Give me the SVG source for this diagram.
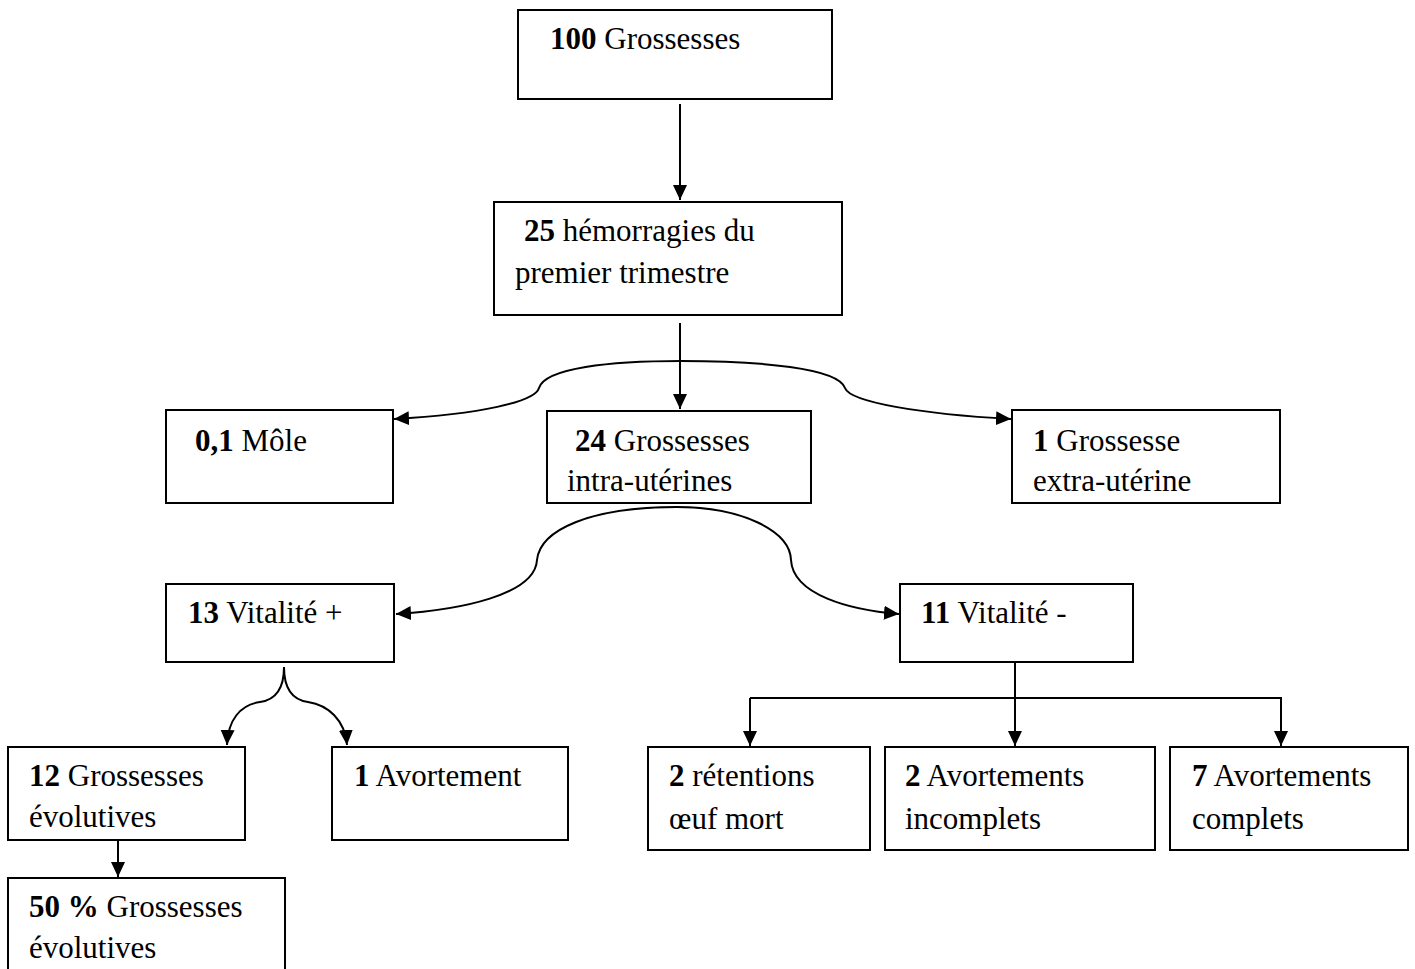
<svg xmlns="http://www.w3.org/2000/svg" width="1415" height="969" viewBox="0 0 1415 969">
<defs>
<style>
.box{fill:#fff;stroke:#000;stroke-width:2}
.t{font-family:"Liberation Serif","Times New Roman",serif;font-size:31px;fill:#000}
.b{font-weight:bold}
.c{fill:none;stroke:#000;stroke-width:2}
</style>
<marker id="ah" markerUnits="userSpaceOnUse" markerWidth="16" markerHeight="16" refX="15" refY="8" orient="auto">
<path d="M0,1 L15,8 L0,15 z" fill="#000"/>
</marker>
</defs>
<rect width="1415" height="969" fill="#fff"/>
<g id="connectors">
<path class="c" d="M680,104 L680,200" marker-end="url(#ah)"/>
<path class="c" d="M680,323 L680,409" marker-end="url(#ah)"/>
<path class="c" d="M681,361 C610,361 545,368 539,388 C535,402 480,414 394,419" marker-end="url(#ah)"/>
<path class="c" d="M681,361 C760,361 838,368 845,388 C850,402 920,414 1011,419" marker-end="url(#ah)"/>
<path class="c" d="M677,507 C590,507 540,530 537,560 C535,595 460,610 396,614" marker-end="url(#ah)"/>
<path class="c" d="M677,507 C740,507 790,530 791,560 C793,595 850,610 899,614" marker-end="url(#ah)"/>
<path class="c" d="M284,667 C284,690 275,700 260,702 C240,705 228,720 227,745" marker-end="url(#ah)"/>
<path class="c" d="M284,667 C284,690 293,700 308,702 C328,705 345,720 347,745" marker-end="url(#ah)"/>
<path class="c" d="M118,841 L118,877" marker-end="url(#ah)"/>
<path class="c" d="M1015,662 L1015,746" marker-end="url(#ah)"/>
<path class="c" d="M750,698 L1281,698 L1281,746" marker-end="url(#ah)"/>
<path class="c" d="M750,698 L750,746" marker-end="url(#ah)"/>
</g>
<g id="n100">
<rect class="box" x="518" y="10" width="314" height="89"/>
<text class="t" x="550" y="49"><tspan class="b">100</tspan> Grossesses</text>
</g>
<g id="n25">
<rect class="box" x="494" y="202" width="348" height="113"/>
<text class="t" x="524" y="241"><tspan class="b">25</tspan> hémorragies du</text>
<text class="t" x="515" y="283">premier trimestre</text>
</g>
<g id="nmole">
<rect class="box" x="166" y="410" width="227" height="93"/>
<text class="t" x="195" y="451"><tspan class="b">0,1</tspan> Môle</text>
</g>
<g id="n24">
<rect class="box" x="547" y="411" width="264" height="92"/>
<text class="t" x="575" y="451"><tspan class="b">24</tspan> Grossesses</text>
<text class="t" x="567" y="491">intra-utérines</text>
</g>
<g id="n1geu">
<rect class="box" x="1012" y="410" width="268" height="93"/>
<text class="t" x="1033" y="451"><tspan class="b">1</tspan> Grossesse</text>
<text class="t" x="1033" y="491">extra-utérine</text>
</g>
<g id="n13">
<rect class="box" x="166" y="584" width="228" height="78"/>
<text class="t" x="188" y="623"><tspan class="b">13</tspan> Vitalité +</text>
</g>
<g id="n11">
<rect class="box" x="900" y="584" width="233" height="78"/>
<text class="t" x="921" y="623"><tspan class="b">11</tspan> Vitalité -</text>
</g>
<g id="n12">
<rect class="box" x="8" y="747" width="237" height="93"/>
<text class="t" x="29" y="786"><tspan class="b">12</tspan> Grossesses</text>
<text class="t" x="29" y="827">évolutives</text>
</g>
<g id="n1av">
<rect class="box" x="332" y="747" width="236" height="93"/>
<text class="t" x="354" y="786"><tspan class="b">1</tspan> Avortement</text>
</g>
<g id="n50">
<rect class="box" x="8" y="878" width="277" height="100"/>
<text class="t" x="29" y="917"><tspan class="b">50 %</tspan> Grossesses</text>
<text class="t" x="29" y="958">évolutives</text>
</g>
<g id="n2ret">
<rect class="box" x="648" y="747" width="222" height="103"/>
<text class="t" x="669" y="786"><tspan class="b">2</tspan> rétentions</text>
<text class="t" x="669" y="829">œuf mort</text>
</g>
<g id="n2inc">
<rect class="box" x="885" y="747" width="270" height="103"/>
<text class="t" x="905" y="786"><tspan class="b">2</tspan> Avortements</text>
<text class="t" x="905" y="829">incomplets</text>
</g>
<g id="n7">
<rect class="box" x="1170" y="747" width="238" height="103"/>
<text class="t" x="1192" y="786"><tspan class="b">7</tspan> Avortements</text>
<text class="t" x="1192" y="829">complets</text>
</g>
</svg>
